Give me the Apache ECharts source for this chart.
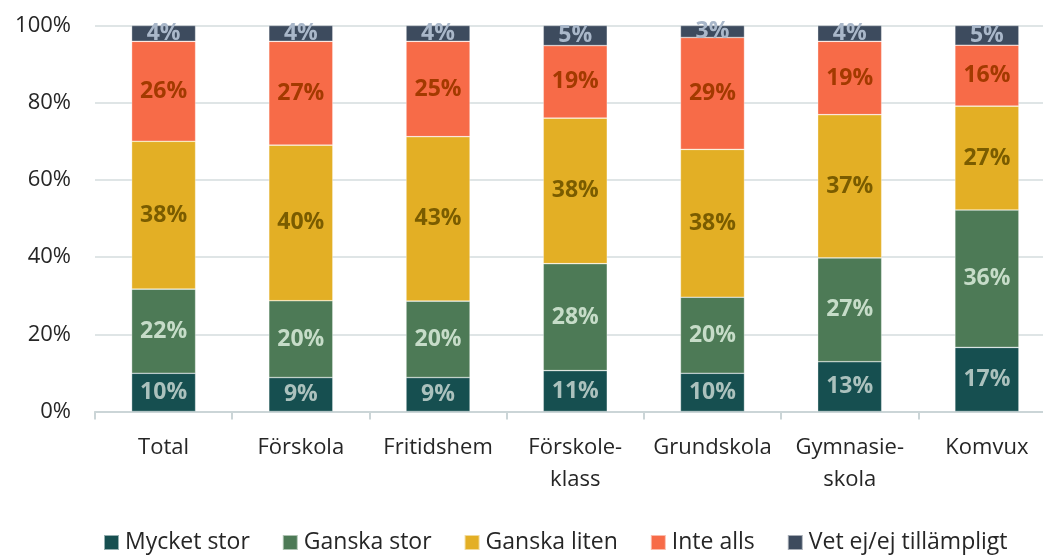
<!DOCTYPE html>
<html>
<head>
<meta charset="utf-8">
<script src="https://cdn.jsdelivr.net/npm/echarts@6/dist/echarts.min.js"></script>
<style>
html,body{margin:0;padding:0;background:#fff;overflow:hidden;width:1043px;height:555px;}
#chart{width:1056px;height:555px;}
</style>
</head>
<body>
<div id="chart"></div>
<script>
const categories = ['Total', 'Förskola', 'Fritidshem', 'Förskole-\nklass', 'Grundskola', 'Gymnasie-\nskola', 'Komvux'];
const seriesNames = ['Mycket stor', 'Ganska stor', 'Ganska liten', 'Inte alls', 'Vet ej/ej tillämpligt'];
const mycketStor = [9.9, 8.8, 8.8, 10.6, 9.9, 12.9, 16.6];
const ganskaStor = [21.8, 19.9, 19.8, 27.7, 19.7, 26.9, 35.6];
const ganskaLiten = [38.3, 40.3, 42.6, 37.7, 38.3, 37.1, 26.9];
const inteAlls = [25.9, 26.9, 24.7, 18.8, 29.0, 19.0, 15.8];
const vetEj = [4.1, 4.1, 4.1, 5.2, 3.1, 4.1, 5.1];
const yTicks = [0, 20, 40, 60, 80, 100];

const values = [mycketStor, ganskaStor, ganskaLiten, inteAlls, vetEj];
const colors = ['#164f50', '#4d7a56', '#e3af25', '#f76b48', '#3d4b5e'];
const labelColors = ['#abc1bd', '#c6dcc8', '#7a5c00', '#a33a00', '#a9b7c9'];
const FONT = '"Open Sans", "Noto Sans", sans-serif';

const chart = echarts.init(document.getElementById('chart'), null, {renderer: 'canvas'});
chart.setOption({
  animation: false,
  textStyle: {fontFamily: FONT},
  grid: {left: 95, right: 0.5, top: 25.5, bottom: 143.5, containLabel: false},
  legend: {
    top: 531,
    left: 103,
    padding: 0,
    itemWidth: 15,
    itemHeight: 15,
    itemGap: 32,
    icon: 'rect',
    textStyle: {fontSize: 23, color: '#262626', fontFamily: FONT, padding: [0, 0, 0, 1]},
    data: seriesNames
  },
  xAxis: {
    type: 'category',
    data: categories,
    axisLine: {show: true, lineStyle: {color: '#cbd5d7', width: 2}},
    axisTick: {show: true, length: 8, lineStyle: {color: '#cbd5d7', width: 2}},
    axisLabel: {fontSize: 22, color: '#262626', margin: 20, lineHeight: 32, interval: 0, fontFamily: FONT}
  },
  yAxis: {
    type: 'value',
    min: yTicks[0],
    max: yTicks[yTicks.length - 1],
    interval: 20,
    axisLine: {show: false},
    axisTick: {show: false},
    splitLine: {lineStyle: {color: '#d5dcde', width: 1.5}},
    axisLabel: {fontSize: 22, color: '#262626', margin: 24, formatter: '{value}%', fontFamily: FONT}
  },
  series: seriesNames.map((name, i) => ({
    name: name,
    type: 'bar',
    stack: 'total',
    barWidth: 64,
    data: values[i],
    itemStyle: {color: colors[i], borderColor: 'rgba(255,255,255,0.55)', borderWidth: 0.6},
    label: {
      show: true,
      position: 'inside',
      formatter: p => Math.round(p.value) + '%',
      color: labelColors[i],
      fontSize: 23,
      fontWeight: 'bold',
      fontFamily: FONT
    }
  }))
});
</script>
</body>
</html>
